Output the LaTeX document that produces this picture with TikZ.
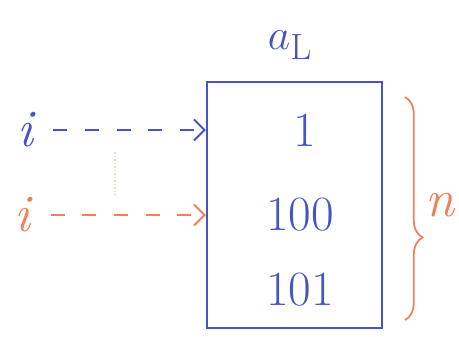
\documentclass[tikz,border=0pt]{standalone}
\usepackage{xcolor}
\usetikzlibrary{arrows.meta, decorations.pathreplacing}

\definecolor{penblue}{RGB}{72,84,192}
\definecolor{penorange}{RGB}{240,128,88}

\begin{document}
\begin{tikzpicture}[
    cell/.style={text=penblue, font=\fontsize{28}{32}\selectfont, inner sep=0pt},
    idx/.style={font=\fontsize{30}{34}\selectfont\itshape, inner sep=0pt},
    pointer/.style={-{Straight Barb[length=6pt, width=12pt]}, dashed, dash pattern=on 8pt off 10pt, line width=1.1pt},
    array/.style={draw=penblue, line width=1.3pt}
]
    \useasboundingbox (0,0) rectangle (9.18,6.72);

    % Tableau
    \node[array, minimum width=3.5cm, minimum height=4.92cm] (arr) at (5.89,2.62) {};
    \node[text=penblue, font=\fontsize{30}{34}\selectfont] (name) at (5.8,5.82) {$a_{\mathrm{L}}$};

    % Contenu
    \node[cell] (c1) at (6.1,4.12) {1};
    \node[cell] (c2) at (6.0,2.42) {100};
    \node[cell] (c3) at (6.0,0.92) {101};

    % Indices
    \node[idx, text=penblue] (iblue) at (0.5,4.12) {i};
    \node[idx, text=penorange] (iorange) at (0.45,2.42) {i};
    \draw[pointer, penblue] (iblue.east) ++(0.4,0) -- (arr.west |- iblue);
    \draw[pointer, penorange] (iorange.east) ++(0.4,0) -- (arr.west |- iorange);

    % trait pale entre les deux fleches
    \coordinate (mtop) at (2.3,3.68);
    \coordinate (mbot) at (2.3,2.82);
    \draw[penorange, opacity=0.35, densely dotted, line width=1pt] (mtop) -- (mbot);

    % Accolade de taille
    \coordinate (btop) at (8.1,4.78);
    \coordinate (bbot) at (8.1,0.32);
    \draw[penorange, line width=1pt, decorate, decoration={brace, amplitude=10pt, aspect=0.63}] (btop) -- (bbot);
    \node[text=penorange, font=\fontsize{30}{34}\selectfont\itshape, inner sep=0pt] (size) at (8.8,2.62) {n};

\end{tikzpicture}
\end{document}
